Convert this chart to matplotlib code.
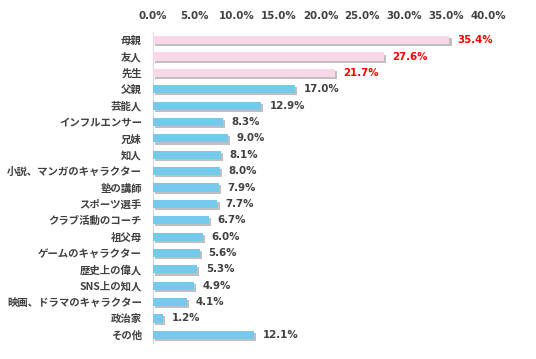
import matplotlib
matplotlib.use("Agg")
import matplotlib.pyplot as plt
import matplotlib.patheffects as pe
from matplotlib.ticker import FuncFormatter

plt.rcParams['font.family'] = ['Noto Sans CJK JP', 'DejaVu Sans']

labels = ["母親", "友人", "先生", "父親", "芸能人", "インフルエンサー", "兄妹", "知人",
          "小説、マンガのキャラクター", "塾の講師", "スポーツ選手", "クラブ活動のコーチ",
          "祖父母", "ゲームのキャラクター", "歴史上の偉人", "SNS上の知人",
          "映画、ドラマのキャラクター", "政治家", "その他"]
values = [35.4, 27.6, 21.7, 17.0, 12.9, 8.3, 9.0, 8.1, 8.0, 7.9, 7.7, 6.7,
          6.0, 5.6, 5.3, 4.9, 4.1, 1.2, 12.1]
n_top = 3  # highlighted rows

pink = "#F8D8E7"
blue = "#75C9EA"
text_col = "#404040"

fig = plt.figure(figsize=(5.36, 3.59), dpi=100)
ax = fig.add_axes([153/536, 1 - 343/359, 335/536, 311/359])

ypos = list(range(len(labels)))
colors = [pink if i < n_top else blue for i in ypos]
bars = ax.barh(ypos, values, height=0.5, color=colors, zorder=3)
for b in bars:
    b.set_path_effects([pe.SimplePatchShadow(offset=(1.5, -1.5), shadow_rgbFace="#8c8c8c", alpha=0.55),
                        pe.Normal()])

for i, v in enumerate(values):
    ax.text(v + 1.0, i, f"{v:.1f}%", va="center", ha="left",
            fontsize=7.4, fontweight="bold", family="DejaVu Sans",
            color="#FF0000" if i < n_top else text_col)

ax.set_xlim(0, 40)
ax.set_ylim(len(labels) - 0.5, -0.5)
ax.set_xticks(range(0, 41, 5))
ax.xaxis.set_major_formatter(FuncFormatter(lambda x, p: f"{x:.1f}%"))
ax.xaxis.tick_top()
ax.tick_params(axis="x", length=0, pad=8, labelsize=7.4, labelcolor=text_col)
for t in ax.get_xticklabels():
    t.set_fontweight("bold")
    t.set_family("DejaVu Sans")

ax.set_yticks(ypos)
ax.set_yticklabels(labels, fontsize=7.5, fontweight="bold", color=text_col)
ax.tick_params(axis="y", length=0, pad=8)

for s in ["top", "right", "bottom"]:
    ax.spines[s].set_visible(False)
ax.spines["left"].set_color("#d9d9d9")
ax.spines["left"].set_linewidth(0.8)

fig.savefig("out.png", dpi=100)
